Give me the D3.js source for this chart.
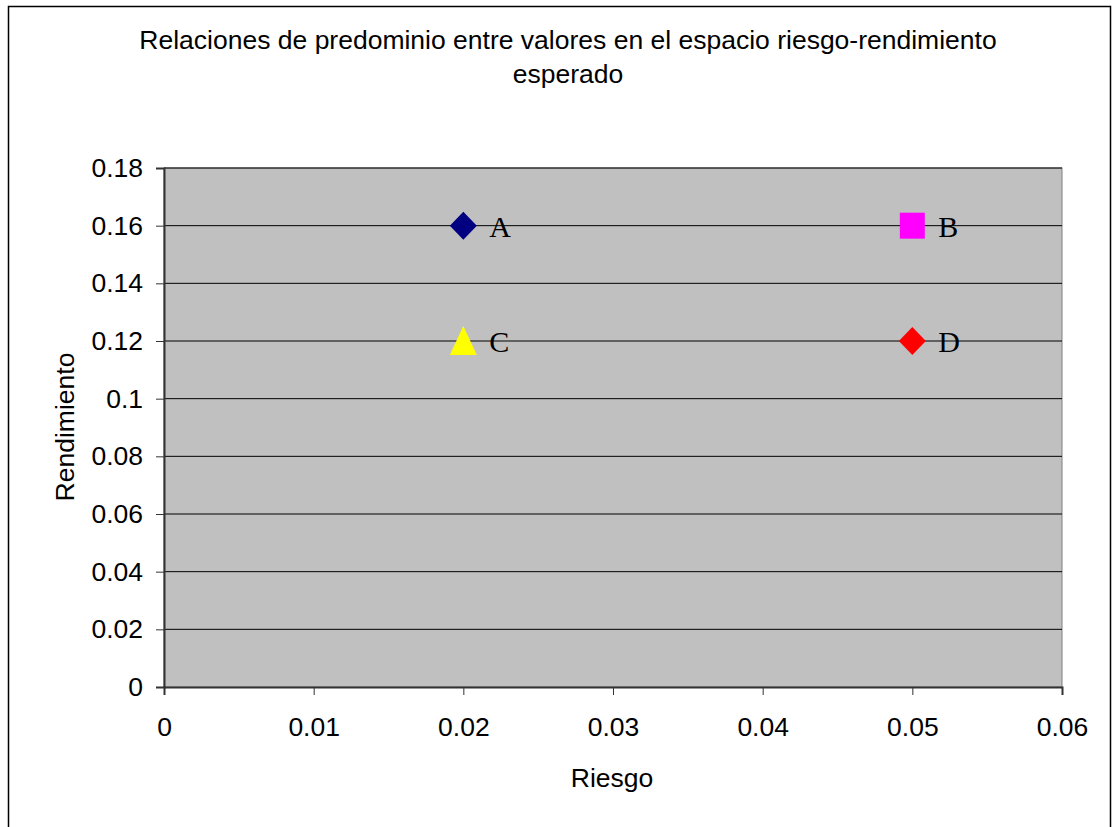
<!DOCTYPE html>
<html><head><meta charset="utf-8">
<script src="https://cdn.jsdelivr.net/npm/d3@7"></script>
<style>body{margin:0;background:#fff}svg{display:block}</style>
</head><body>
<script>
const names = ["A","B","C","D"];
const riesgo = [0.02,0.05,0.02,0.05];
const rendimiento = [0.16,0.16,0.12,0.12];
const shapes = ["diamond","square","triangle","diamond"];
const colors = ["#000080","#ff00ff","#ffff00","#ff0000"];
const xTicks = [0,0.01,0.02,0.03,0.04,0.05,0.06];
const yTicks = [0,0.02,0.04,0.06,0.08,0.1,0.12,0.14,0.16,0.18];

const W=1114,H=827;
const svg=d3.select("body").append("svg").attr("width",W).attr("height",H);
svg.append("rect").attr("x",8.5).attr("y",6.5).attr("width",1102).attr("height",840).attr("fill","#fff").attr("stroke","#000").attr("stroke-width",1.5);

const L=164,R=1062,T=168,B=687;
const x=d3.scaleLinear().domain([0,0.06]).range([L,R]);
const y=d3.scaleLinear().domain([0,0.18]).range([B,T]);

svg.append("rect").attr("x",L).attr("y",T).attr("width",R-L).attr("height",B-T).attr("fill","#c0c0c0").attr("stroke","#808080");
svg.append("g").selectAll("line").data(yTicks.filter(d=>d>0)).join("line")
 .attr("x1",L).attr("x2",R).attr("y1",d=>y(d)).attr("y2",d=>y(d)).attr("stroke","#000").attr("stroke-width",1);

const font="Arial, 'Liberation Sans', sans-serif";
const FS=26.5;
const gx=svg.append("g").attr("transform",`translate(0,${B})`)
 .call(d3.axisBottom(x).tickValues(xTicks).tickFormat(d=>String(+d.toFixed(2))).tickSize(8).tickPadding(22));
const gy=svg.append("g").attr("transform",`translate(${L},0)`)
 .call(d3.axisLeft(y).tickValues(yTicks).tickFormat(d=>String(+d.toFixed(2))).tickSize(8).tickPadding(13));
[gx,gy].forEach(g=>{g.selectAll("text").attr("font-family",font).attr("font-size",FS).attr("fill","#000");
 g.selectAll("line").attr("stroke","#333");g.select(".domain").attr("stroke","#333").attr("stroke-width",2);});

const shapePath={
 diamond:"M0,-14L13.5,0L0,14L-13.5,0Z",
 square:"M-12.5,-13L12.5,-13L12.5,13L-12.5,13Z",
 triangle:"M0,-15L13.5,14L-13.5,14Z"
};
const pts=svg.append("g").selectAll("g").data(names.map((n,i)=>({n,x:riesgo[i],y:rendimiento[i],s:shapes[i],c:colors[i]}))).join("g")
 .attr("transform",d=>`translate(${x(d.x)},${y(d.y)})`);
pts.append("path").attr("d",d=>shapePath[d.s]).attr("fill",d=>d.c);
pts.append("text").attr("x",26).attr("y",11).attr("font-family","'Liberation Serif','Times New Roman',serif").attr("font-size",30).text(d=>d.n);

svg.append("text").attr("x",568).attr("y",49).attr("text-anchor","middle").attr("font-family",font).attr("font-size",FS)
 .text("Relaciones de predominio entre valores en el espacio riesgo-rendimiento");
svg.append("text").attr("x",568).attr("y",83).attr("text-anchor","middle").attr("font-family",font).attr("font-size",FS).text("esperado");
svg.append("text").attr("x",612).attr("y",787).attr("text-anchor","middle").attr("font-family",font).attr("font-size",FS).text("Riesgo");
svg.append("text").attr("transform","translate(74,427) rotate(-90)").attr("text-anchor","middle").attr("font-family",font).attr("font-size",FS).text("Rendimiento");
</script>
</body></html>
